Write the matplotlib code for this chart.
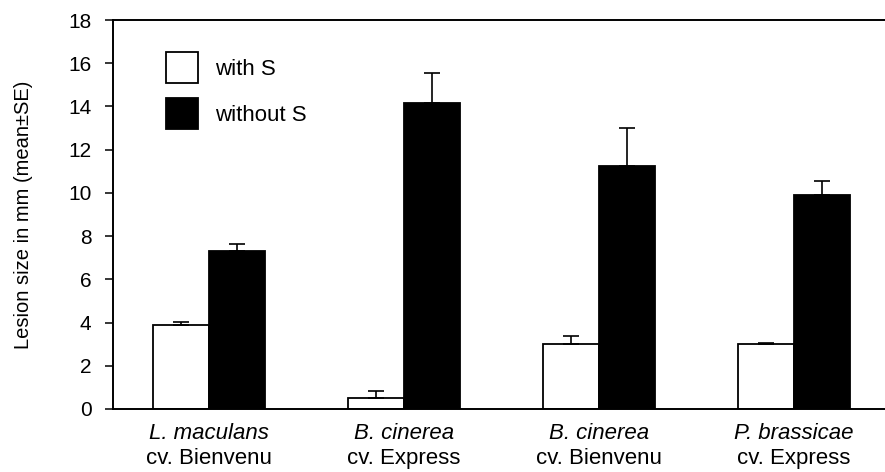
import numpy as np
import matplotlib
matplotlib.use('Agg')
import matplotlib.pyplot as plt

plt.rcParams['font.family'] = ['Liberation Sans', 'DejaVu Sans']

species = ['L. maculans', 'B. cinerea', 'B. cinerea', 'P. brassicae']
cultivars = ['cv. Bienvenu', 'cv. Express', 'cv. Bienvenu', 'cv. Express']
with_s = [3.87, 0.52, 3.0, 3.0]
with_s_se = [0.17, 0.33, 0.39, 0.06]
without_s = [7.33, 14.15, 11.25, 9.88]
without_s_se = [0.31, 1.42, 1.77, 0.69]
yticks = np.arange(0, 19, 2)

fig = plt.figure(figsize=(8.85, 4.72), dpi=100)
ax = fig.add_axes([113/885, 63/472, 1 - 113/885, 389/472])

x = np.arange(len(species))
w = 0.288
err_kw = dict(ecolor='black', elinewidth=1.2, capsize=5.5, capthick=1.2)
ax.bar(x - w/2, with_s, w, color='white', edgecolor='black', linewidth=1.3,
       yerr=[np.zeros(4), with_s_se], error_kw=err_kw, label='with S')
ax.bar(x + w/2, without_s, w, color='black', edgecolor='black', linewidth=1.3,
       yerr=[np.zeros(4), without_s_se], error_kw=err_kw, label='without S')

ax.set_xlim(-0.492, 3.467)
ax.set_ylim(0, 18)
ax.set_yticks(yticks)
ax.tick_params(axis='y', direction='out', length=6, width=1.1, labelsize=15, pad=9.5)
ax.set_xticks(x)
ax.set_xticklabels([''] * 4)
ax.tick_params(axis='x', length=0)
for s in ['left', 'top', 'bottom']:
    ax.spines[s].set_linewidth(1.4)
ax.spines['right'].set_visible(False)

for i in range(len(species)):
    ax.annotate(species[i], xy=(x[i], 0), xycoords=('data', 'axes fraction'),
                xytext=(0, -10), textcoords='offset points', ha='center', va='top',
                fontsize=16, style='italic')
    ax.annotate(cultivars[i], xy=(x[i], 0), xycoords=('data', 'axes fraction'),
                xytext=(0, -28), textcoords='offset points', ha='center', va='top',
                fontsize=16)

ax.set_ylabel('Lesion size in mm (mean\u00b1SE)', fontsize=14.5)
ax.yaxis.set_label_coords(-0.1036, 0.5)

ax.legend(loc='upper left', bbox_to_anchor=(0.069, 0.918), frameon=False,
          fontsize=16, handlelength=1.44, handleheight=1.77, labelspacing=0.675,
          handletextpad=0.76, borderpad=0, borderaxespad=0)

fig.savefig('out.png', dpi=100)
